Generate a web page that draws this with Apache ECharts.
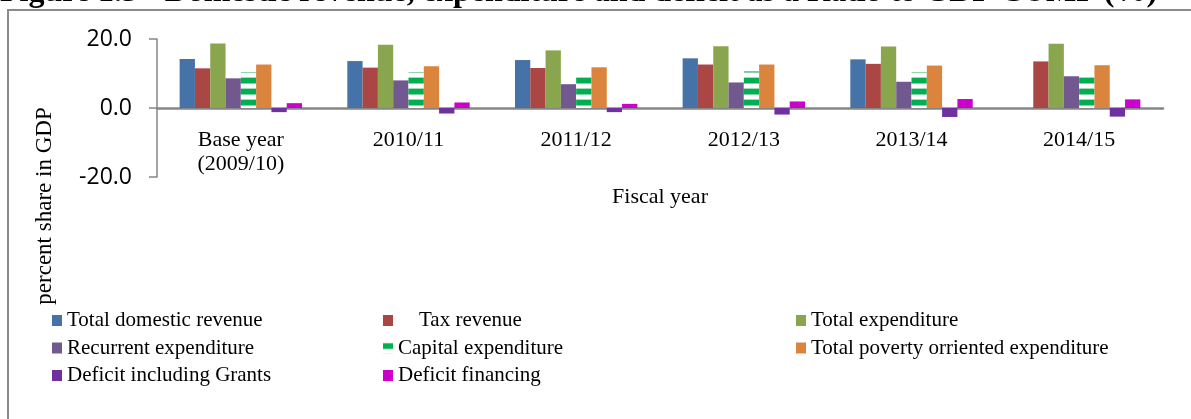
<!DOCTYPE html>
<html>
<head>
<meta charset="utf-8">
<script src="https://cdn.jsdelivr.net/npm/echarts@6/dist/echarts.min.js"></script>
<style>
  html, body { margin: 0; padding: 0; background: #fff; }
  #main { width: 1191px; height: 419px; }
</style>
</head>
<body>
<div id="main"></div>
<script>
  // fiscal years on the x axis
  const years = ['Base year\n(2009/10)', '2010/11', '2011/12', '2012/13', '2013/14', '2014/15']

  // percent share in GDP
  const totalRevenue = [14.2, 13.6, 13.9, 14.4, 14.1, null]
  const taxRevenue = [11.5, 11.7, 11.6, 12.6, 12.8, 13.5]
  const totalExpenditure = [18.7, 18.3, 16.7, 17.9, 17.8, 18.6]
  const recurrentExp = [8.6, 8.0, 6.9, 7.4, 7.6, 9.2]
  const capitalExp = [10.4, 10.4, 9.7, 10.6, 10.4, 9.3]
  const povertyExp = [12.6, 12.1, 11.8, 12.6, 12.3, 12.4]
  const deficitGrants = [-1.2, -1.6, -1.2, -1.9, -2.6, -2.5]
  const deficitFinancing = [1.4, 1.6, 1.2, 1.9, 2.6, 2.5]

  const yTicks = [-20, 0, 20]

  const serif = 'Liberation Serif'

  // striped fill for capital expenditure
  let stripe = document.createElement('canvas')
  stripe.width = 4
  stripe.height = 11
  let ctx = stripe.getContext('2d')
  ctx.fillStyle = '#ffffff'
  ctx.fillRect(0, 0, 4, 11)
  ctx.fillStyle = '#9fdcb8'
  ctx.fillRect(0, 0, 4, 1)
  ctx.fillStyle = '#00b050'
  ctx.fillRect(0, 1, 4, 5)
  ctx.fillStyle = '#7fd3a6'
  ctx.fillRect(0, 6, 4, 1)

  let bar = (name, data, color) => ({
    name: name,
    type: 'bar',
    data: data,
    barGap: '0%',
    barCategoryGap: '27%',
    itemStyle: { color: color },
    animation: false
  })

  let legendBase = {
    orient: 'vertical',
    top: 310,
    padding: 0,
    itemWidth: 10,
    itemHeight: 11,
    itemGap: 6.5,
    icon: 'rect',
    textStyle: { fontFamily: serif, fontSize: 21, color: '#000', lineHeight: 21 }
  }

  let myChart = echarts.init(document.getElementById('main'))

  let option = {
    backgroundColor: '#fff',
    graphic: [
      {
        type: 'rect',
        shape: { x: 8, y: 10, width: 1300, height: 600 },
        style: { fill: 'none', stroke: '#8a8a8a', lineWidth: 2 },
        z: -1
      },
      {
        type: 'text',
        x: 0,
        y: 9,
        style: {
          text: 'Figure 1.5 - Domestic revenue, expenditure and deficit as a Ratio to GDP CUMP (%)',
          font: 'bold 32px "Liberation Serif"',
          fill: '#000',
          textAlign: 'left',
          textVerticalAlign: 'bottom'
        }
      },
      {
        type: 'text',
        x: 45,
        y: 206,
        rotation: Math.PI / 2,
        style: {
          text: 'percent share in GDP',
          font: '23px "Liberation Serif"',
          fill: '#000',
          textAlign: 'center',
          textVerticalAlign: 'middle'
        }
      }
    ],
    legend: [
      Object.assign({}, legendBase, {
        left: 52,
        data: ['Total domestic revenue', 'Recurrent expenditure', 'Deficit including Grants']
      }),
      Object.assign({}, legendBase, {
        left: 383,
        data: ['Tax revenue', 'Capital expenditure', 'Deficit financing'],
        formatter: (name) => name === 'Tax revenue' ? '    ' + name : name
      }),
      Object.assign({}, legendBase, {
        left: 796,
        data: ['Total expenditure', 'Total poverty orriented expenditure']
      })
    ],
    grid: {
      left: 157,
      right: 28,
      top: 39,
      bottom: 242,
      containLabel: false
    },
    xAxis: {
      type: 'category',
      data: years,
      name: 'Fiscal year',
      nameLocation: 'middle',
      nameGap: 9,
      nameTextStyle: { fontFamily: serif, fontSize: 22, color: '#000' },
      axisLine: { onZero: true, lineStyle: { color: '#868686', width: 2.5 } },
      axisTick: { show: false },
      axisLabel: {
        margin: -49,
        fontFamily: serif,
        fontSize: 22,
        lineHeight: 24,
        color: '#000'
      }
    },
    yAxis: {
      type: 'value',
      min: yTicks[0],
      max: yTicks[yTicks.length - 1],
      interval: 20,
      axisLine: { show: true, lineStyle: { color: '#868686', width: 1.5 } },
      axisTick: { show: true, length: 8, lineStyle: { color: '#868686', width: 1.5 } },
      splitLine: { show: false },
      axisLabel: {
        margin: 25,
        fontFamily: 'Open Sans',
        fontSize: 23,
        color: '#000',
        formatter: (v) => v.toFixed(1)
      }
    },
    series: [
      bar('Total domestic revenue', totalRevenue, '#4572a7'),
      bar('Tax revenue', taxRevenue, '#aa4643'),
      bar('Total expenditure', totalExpenditure, '#89a54e'),
      bar('Recurrent expenditure', recurrentExp, '#71588f'),
      bar('Capital expenditure', capitalExp, { image: stripe, repeat: 'repeat' }),
      bar('Total poverty orriented expenditure', povertyExp, '#db843d'),
      bar('Deficit including Grants', deficitGrants, '#7030a0'),
      bar('Deficit financing', deficitFinancing, '#cc00cc')
    ]
  }

  myChart.setOption(option)
</script>
</body>
</html>
